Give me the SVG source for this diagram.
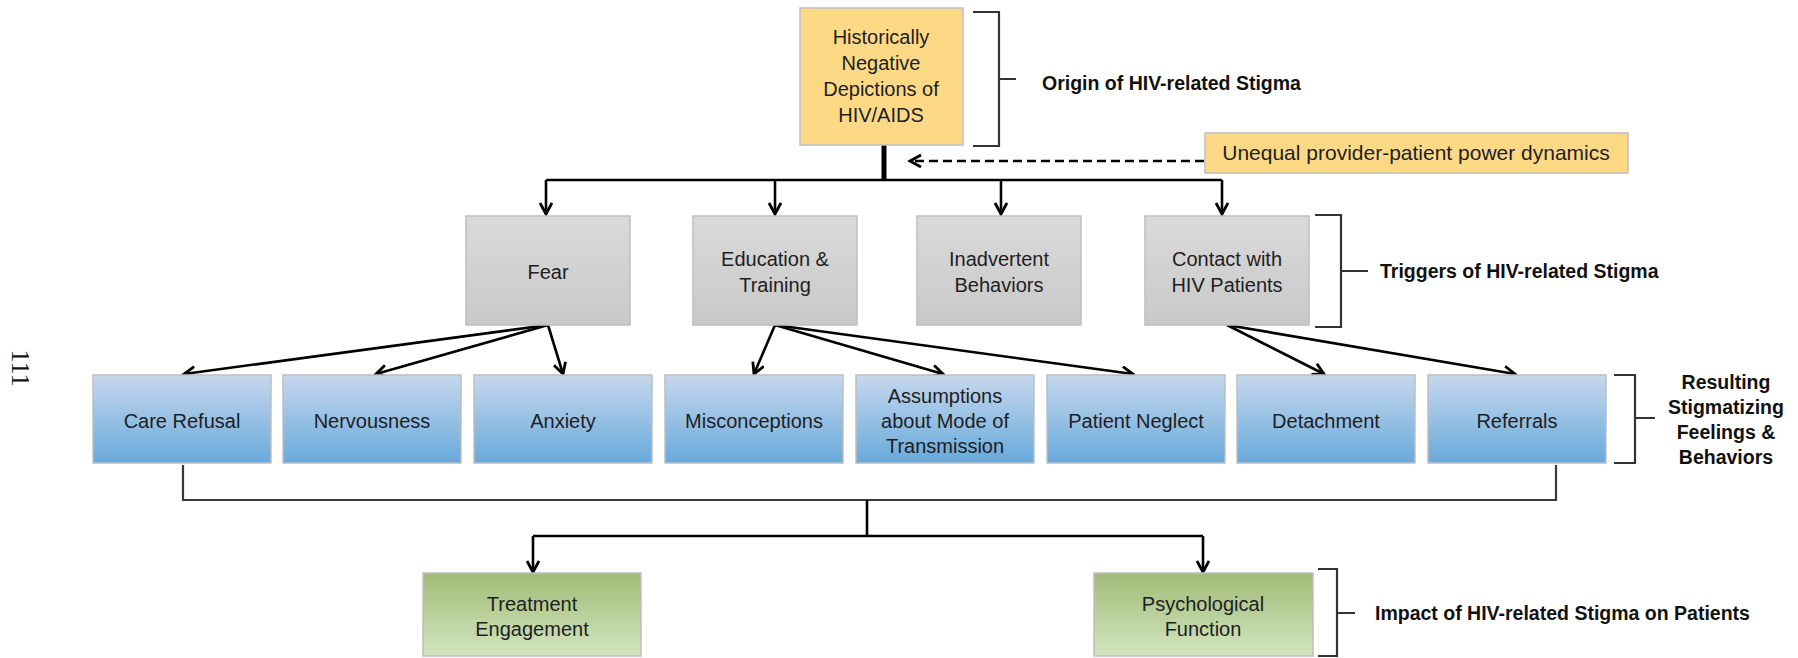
<svg xmlns="http://www.w3.org/2000/svg" width="1798" height="658" viewBox="0 0 1798 658">
<defs>
<linearGradient id="gBlue" x1="0" y1="0" x2="0" y2="1">
<stop offset="0" stop-color="#C6D8EE"/>
<stop offset="1" stop-color="#68A9DA"/>
</linearGradient>
<linearGradient id="gGray" x1="0" y1="0" x2="0" y2="1">
<stop offset="0" stop-color="#DADADA"/>
<stop offset="1" stop-color="#C9C9C9"/>
</linearGradient>
<linearGradient id="gGreen" x1="0" y1="0" x2="0" y2="1">
<stop offset="0" stop-color="#A0BC76"/>
<stop offset="1" stop-color="#D3E5C0"/>
</linearGradient>
<marker id="arr" markerUnits="userSpaceOnUse" markerWidth="16" markerHeight="16" refX="12" refY="7" orient="auto">
<path d="M1,1 L12,7 L1,13" fill="none" stroke="#000" stroke-width="2.8"/>
</marker>
<style>
.box{stroke:#BEBEBE;stroke-width:1.5}
.yel{fill:#FDD986}
.gray{fill:url(#gGray)}
.blue{fill:url(#gBlue)}
.green{fill:url(#gGreen)}
.t{font-family:"Liberation Sans",Arial,sans-serif;font-size:20px;fill:#1E1E24;text-anchor:middle}
.lbl{font-family:"Liberation Sans",Arial,sans-serif;font-size:19.5px;font-weight:bold;fill:#111}
.brk{fill:none;stroke:#333;stroke-width:2.2}
.c{fill:none;stroke:#000;stroke-width:2.6}
.ca{fill:none;stroke:#000;stroke-width:2.6;marker-end:url(#arr)}
</style>
</defs>

<text transform="translate(12,368) rotate(90)" font-family="'Liberation Serif','Times New Roman',serif" font-size="26" text-anchor="middle" fill="#111">111</text>

<g id="connectors">
<path d="M884,144 V180" fill="none" stroke="#000" stroke-width="5"/>
<path class="c" d="M546,180 H1222" stroke-width="3.4"/>
<path class="ca" d="M546,180 V214"/>
<path class="ca" d="M775,180 V214"/>
<path class="ca" d="M1001,180 V214"/>
<path class="ca" d="M1222,180 V214"/>
<path class="ca" d="M1204,161 H910" stroke-dasharray="9,5"/>
<path class="ca" d="M548,325 L184,374"/>
<path class="ca" d="M548,325 L376,374"/>
<path class="ca" d="M548,325 L563,374"/>
<path class="ca" d="M775,325 L754,374"/>
<path class="ca" d="M775,325 L943,374"/>
<path class="ca" d="M775,325 L1133,374"/>
<path class="ca" d="M1227,325 L1324,374"/>
<path class="ca" d="M1227,325 L1515,374"/>
<path d="M183,465 V500 H1556 V465" fill="none" stroke="#3A3A3A" stroke-width="2.2"/>
<path class="c" d="M867,500 V536" stroke-width="3.2"/>
<path class="c" d="M533,536 H1203" stroke-width="3"/>
<path class="ca" d="M533,536 V572"/>
<path class="ca" d="M1203,536 V572"/>
</g>

<g id="n-origin">
<rect class="box yel" x="800" y="8" width="163" height="137"/>
<text class="t"><tspan x="881" y="44">Historically</tspan><tspan x="881" y="70">Negative</tspan><tspan x="881" y="96">Depictions of</tspan><tspan x="881" y="122">HIV/AIDS</tspan></text>
</g>
<g id="n-unequal">
<rect class="box yel" x="1205" y="133" width="423" height="40"/>
<text class="t" x="1416" y="160" style="font-size:21px">Unequal provider-patient power dynamics</text>
</g>

<g id="n-fear">
<rect class="box gray" x="466" y="216" width="164" height="109"/>
<text class="t" x="548" y="279">Fear</text>
</g>
<g id="n-education">
<rect class="box gray" x="693" y="216" width="164" height="109"/>
<text class="t"><tspan x="775" y="266">Education &amp;</tspan><tspan x="775" y="292">Training</tspan></text>
</g>
<g id="n-inadvertent">
<rect class="box gray" x="917" y="216" width="164" height="109"/>
<text class="t"><tspan x="999" y="266">Inadvertent</tspan><tspan x="999" y="292">Behaviors</tspan></text>
</g>
<g id="n-contact">
<rect class="box gray" x="1145" y="216" width="164" height="109"/>
<text class="t"><tspan x="1227" y="266">Contact with</tspan><tspan x="1227" y="292">HIV Patients</tspan></text>
</g>

<g id="n-care">
<rect class="box blue" x="93" y="375" width="178" height="88"/>
<text class="t" x="182" y="428">Care Refusal</text>
</g>
<g id="n-nervous">
<rect class="box blue" x="283" y="375" width="178" height="88"/>
<text class="t" x="372" y="428">Nervousness</text>
</g>
<g id="n-anxiety">
<rect class="box blue" x="474" y="375" width="178" height="88"/>
<text class="t" x="563" y="428">Anxiety</text>
</g>
<g id="n-misconceptions">
<rect class="box blue" x="665" y="375" width="178" height="88"/>
<text class="t" x="754" y="428">Misconceptions</text>
</g>
<g id="n-assumptions">
<rect class="box blue" x="856" y="375" width="178" height="88"/>
<text class="t"><tspan x="945" y="403">Assumptions</tspan><tspan x="945" y="428">about Mode of</tspan><tspan x="945" y="453">Transmission</tspan></text>
</g>
<g id="n-neglect">
<rect class="box blue" x="1047" y="375" width="178" height="88"/>
<text class="t" x="1136" y="428">Patient Neglect</text>
</g>
<g id="n-detachment">
<rect class="box blue" x="1237" y="375" width="178" height="88"/>
<text class="t" x="1326" y="428">Detachment</text>
</g>
<g id="n-referrals">
<rect class="box blue" x="1428" y="375" width="178" height="88"/>
<text class="t" x="1517" y="428">Referrals</text>
</g>

<g id="n-treatment">
<rect class="box green" x="423" y="573" width="218" height="83"/>
<text class="t"><tspan x="532" y="611">Treatment</tspan><tspan x="532" y="636">Engagement</tspan></text>
</g>
<g id="n-psych">
<rect class="box green" x="1094" y="573" width="219" height="83"/>
<text class="t"><tspan x="1203" y="611">Psychological</tspan><tspan x="1203" y="636">Function</tspan></text>
</g>

<g id="brackets">
<path class="brk" d="M973,12 H999 V146 H973 M999,79 H1016"/>
<path class="brk" d="M1315,215 H1341 V327 H1315 M1341,271 H1368"/>
<path class="brk" d="M1614,375 H1635 V463 H1614 M1635,418 H1655"/>
<path class="brk" d="M1318,569 H1337 V656 H1318 M1337,613 H1355"/>
</g>

<g id="labels">
<text class="lbl" x="1042" y="90">Origin of HIV-related Stigma</text>
<text class="lbl" x="1380" y="278">Triggers of HIV-related Stigma</text>
<text class="lbl" text-anchor="middle"><tspan x="1726" y="389">Resulting</tspan><tspan x="1726" y="414">Stigmatizing</tspan><tspan x="1726" y="439">Feelings &amp;</tspan><tspan x="1726" y="464">Behaviors</tspan></text>
<text class="lbl" x="1375" y="620">Impact of HIV-related Stigma on Patients</text>
</g>
</svg>
